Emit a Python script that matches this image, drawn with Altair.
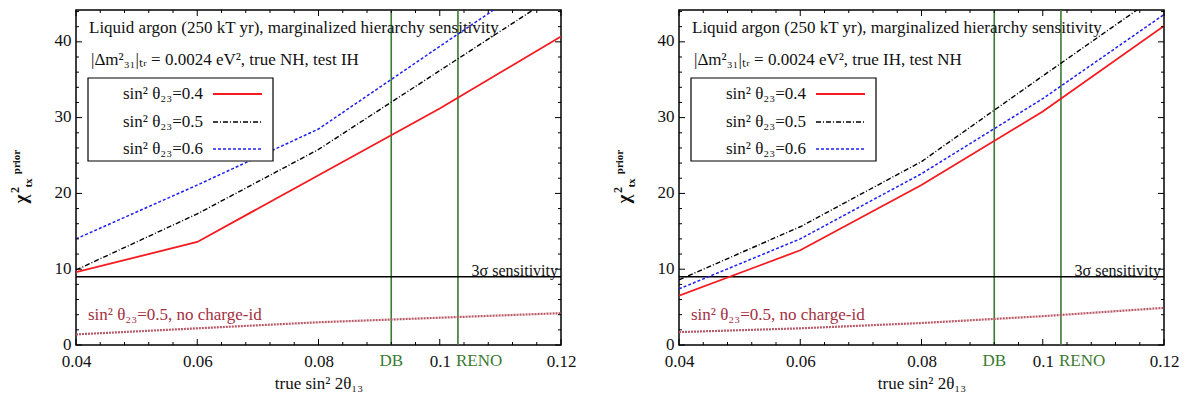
import altair as alt
import pandas as pd

# ---------------- data ----------------
x_vals = [0.04, 0.06, 0.08, 0.10, 0.12]

# true NH, test IH
nh_04 = [9.6, 13.6, 22.4, 31.2, 40.7]
nh_05 = [9.9, 17.3, 25.8, 36.2, 46.6]
nh_06 = [14.0, 21.1, 28.5, 39.4, 50.2]
nh_nocid = [1.4, 2.2, 3.0, 3.6, 4.2]

# true IH, test NH
ih_04 = [6.5, 12.5, 21.1, 30.8, 42.1]
ih_05 = [8.6, 15.6, 24.2, 35.5, 46.7]
ih_06 = [7.4, 14.0, 22.6, 32.5, 43.6]
ih_nocid = [1.7, 2.2, 2.9, 3.8, 4.9]

series_labels = ["sin² θ₂₃=0.4", "sin² θ₂₃=0.5", "sin² θ₂₃=0.6"]
nocid_label = "sin² θ₂₃=0.5, no charge-id"
title_line = "Liquid argon (250 kT yr), marginalized hierarchy sensitivity"
hier_nh = "|Δm²₃₁|ₜᵣ = 0.0024 eV², true NH, test IH"
hier_ih = "|Δm²₃₁|ₜᵣ = 0.0024 eV², true IH, test NH"

sigma3_level = [9.0]
sigma3_label = "3σ sensitivity"
reactor_names = ["DB", "RENO"]
reactor_vals = [0.092, 0.103]

x_major = [0.04, 0.06, 0.08, 0.10, 0.12]
x_minor = [0.044, 0.048, 0.052, 0.056, 0.064, 0.068, 0.072, 0.076,
           0.084, 0.088, 0.092, 0.096, 0.104, 0.108, 0.112, 0.116]
y_major = [0, 10, 20, 30, 40]
y_minor = [2, 4, 6, 8, 12, 14, 16, 18, 22, 24, 26, 28, 32, 34, 36, 38, 42, 44]

# ---------------- style ----------------
FONT = "Liberation Serif"
W, H = 485, 335
XDOM = [0.04, 0.12]
YDOM = [0, 44.2]
RED = "#f51a1f"
BLUE = "#2020f0"
BLACK = "#000000"
BROWN = "#a3303f"
BROWN_LINE = "#b85a68"
GREEN = "#3a7a30"
TXT = "#111111"


def X(field="x"):
    return alt.X(f"{field}:Q",
                 scale=alt.Scale(domain=XDOM, nice=False, zero=False),
                 axis=alt.Axis(values=x_major, format=".2~f", ticks=False, domain=False,
                               grid=False, labelFlush=False, labelFont=FONT,
                               labelFontSize=17, labelColor=TXT, labelPadding=8,
                               title="true sin² 2θ₁₃", titleFont=FONT, titleFontSize=17,
                               titleFontWeight="normal", titleColor=TXT, titlePadding=6))


def Y(field="y"):
    return alt.Y(f"{field}:Q",
                 scale=alt.Scale(domain=YDOM, nice=False, zero=False),
                 axis=alt.Axis(values=y_major, ticks=False, domain=False, grid=False,
                               labelFont=FONT, labelFontSize=17, labelColor=TXT,
                               labelPadding=5, labelOffset=-1, title=None))


def txt(text, x, y, size=17, color=TXT, align="left", angle=0, weight="normal"):
    return alt.Chart(pd.DataFrame({"t": [text]})).mark_text(
        font=FONT, fontSize=size, color=color, align=align, baseline="middle",
        angle=angle, fontWeight=weight
    ).encode(x=alt.value(x), y=alt.value(y), text="t:N")


def panel(s04, s05, s06, snoc, hier):
    layers = []
    # reactor lines
    rdf = pd.DataFrame({"x": reactor_vals, "n": reactor_names})
    layers.append(alt.Chart(rdf).mark_rule(color=GREEN, strokeWidth=1.6).encode(x=X()))
    layers.append(alt.Chart(rdf.iloc[[0]]).mark_text(font=FONT, fontSize=17, color=GREEN,
                                                      align="center", baseline="middle")
                  .encode(x=X(), y=alt.value(H + 16), text="n:N"))
    layers.append(alt.Chart(rdf.iloc[[1]]).mark_text(font=FONT, fontSize=17, color=GREEN,
                                                      align="left", baseline="middle", dx=-2)
                  .encode(x=X(), y=alt.value(H + 16), text="n:N"))
    # 3 sigma line
    layers.append(alt.Chart(pd.DataFrame({"y": sigma3_level})).mark_rule(
        color=BLACK, strokeWidth=1.5).encode(y=Y()))
    layers.append(txt(sigma3_label, W - 3, 261, size=16, align="right"))

    # curves
    def curve(vals, color, dash, width):
        kw = dict(color=color, strokeWidth=width, clip=True)
        if dash:
            kw["strokeDash"] = dash
        return alt.Chart(pd.DataFrame({"x": x_vals, "y": vals})).mark_line(**kw).encode(
            x=X(), y=Y())

    layers.append(curve(snoc, BROWN_LINE, [2, 1], 2.2))
    layers.append(curve(s06, BLUE, [3, 2], 1.5))
    layers.append(curve(s05, BLACK, [5, 2, 1, 2], 1.4))
    layers.append(curve(s04, RED, None, 1.8))

    # ticks (inside, on all four sides)
    for vals, L in ((y_major, 6), (y_minor, 3)):
        d = pd.DataFrame({"y": vals})
        layers.append(alt.Chart(d).mark_rule(color=BLACK, strokeWidth=1).encode(
            y=Y(), x=alt.value(0), x2=alt.value(L)))
        layers.append(alt.Chart(d).mark_rule(color=BLACK, strokeWidth=1).encode(
            y=Y(), x=alt.value(W), x2=alt.value(W - L)))
    for vals, L in ((x_major, 6), (x_minor, 3)):
        d = pd.DataFrame({"x": vals})
        layers.append(alt.Chart(d).mark_rule(color=BLACK, strokeWidth=1).encode(
            x=X(), y=alt.value(H), y2=alt.value(H - L)))
        layers.append(alt.Chart(d).mark_rule(color=BLACK, strokeWidth=1).encode(
            x=X(), y=alt.value(0), y2=alt.value(L)))

    # annotations
    layers.append(txt(title_line, 13, 18, size=17))
    layers.append(txt(hier, 15, 50, size=17))
    layers.append(txt(nocid_label, 12, 305, size=17, color=BROWN))

    # legend box
    layers.append(alt.Chart(pd.DataFrame({"a": [0]})).mark_rect(
        fill="white", stroke=BLACK, strokeWidth=1.2).encode(
        x=alt.value(12), x2=alt.value(197), y=alt.value(68), y2=alt.value(151)))
    rows = [84, 112, 139]
    styles = [(RED, None, 1.8), (BLACK, [5, 2, 1, 2], 1.4), (BLUE, [3, 2], 1.5)]
    for lab, ry, (c, dsh, wdt) in zip(series_labels, rows, styles):
        layers.append(txt(lab, 127, ry, size=17, align="right"))
        kw = dict(color=c, strokeWidth=wdt)
        if dsh:
            kw["strokeDash"] = dsh
        layers.append(alt.Chart(pd.DataFrame({"a": [0]})).mark_rule(**kw).encode(
            x=alt.value(137), x2=alt.value(186), y=alt.value(ry)))

    # y-axis title pieces (rotated)
    layers.append(txt("χ", -55, 189, size=19, angle=270, align="center", weight="bold"))
    layers.append(txt("2", -61, 180, size=12, angle=270, align="center", weight="bold"))
    layers.append(txt("tx", -47, 173, size=11, angle=270, align="center", weight="bold"))
    layers.append(txt("prior", -59, 152, size=11, angle=270, align="center", weight="bold"))

    return alt.layer(*layers).properties(width=W, height=H)


left = panel(nh_04, nh_05, nh_06, nh_nocid, hier_nh)
right = panel(ih_04, ih_05, ih_06, ih_nocid, hier_ih)

chart = alt.hconcat(left, right, spacing=118, bounds="flush").properties(
    padding={"left": 0, "top": 0, "right": 0, "bottom": 0},
    background="white"
).configure_view(stroke=BLACK, strokeWidth=1.5)

chart.save("out.html", embed_options={"renderer": "svg", "actions": False})
